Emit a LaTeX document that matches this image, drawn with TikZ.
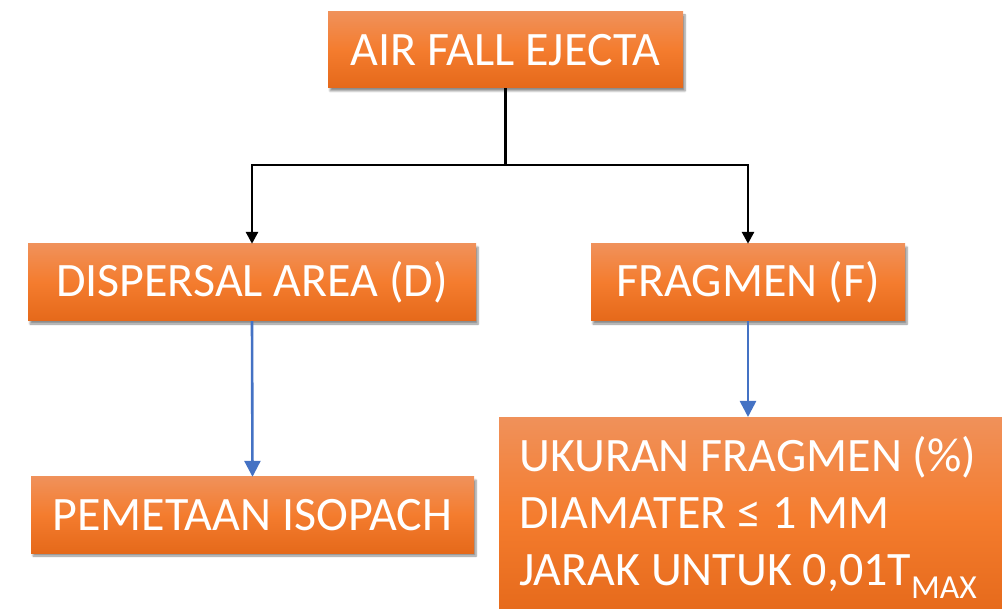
\documentclass[tikz,border=0pt]{standalone}
\usepackage{fontspec}
\setmainfont{Carlito}
\usetikzlibrary{arrows.meta,shadows.blur}
\definecolor{boxtop}{HTML}{F0915A}
\definecolor{boxmid}{HTML}{F47C2E}
\definecolor{boxbot}{HTML}{E5691A}
\definecolor{linkblue}{HTML}{4472C4}
\tikzset{
  block/.style={rectangle, top color=boxtop, bottom color=boxbot, middle color=boxmid,
    text=white, inner sep=0pt, font=\fontsize{48}{57}\selectfont,
    blur shadow={shadow xshift=2pt, shadow yshift=-3pt, shadow blur steps=6, shadow opacity=45}},
  tree/.style={line width=2.8pt, -{Triangle[length=12pt,width=12pt]}},
  link/.style={line width=2.6pt, draw=linkblue, -{Triangle[length=16pt,width=16pt]}}
}

\begin{document}
\begin{tikzpicture}[x=1pt,y=-1pt]
    \useasboundingbox (0,0) rectangle (1002,609);
    \node[block, minimum width=355pt, minimum height=76pt] (ejecta) at (505.5,50) {AIR FALL EJECTA};
    \node[block, minimum width=448pt, minimum height=77pt] (dispersal) at (252,282.5) {DISPERSAL AREA (D)};
    \node[block, minimum width=314pt, minimum height=77pt] (fragmen) at (748,282.5) {FRAGMEN (F)};
    \node[block, minimum width=443pt, minimum height=76pt] (isopach) at (252.5,515) {PEMETAAN ISOPACH};
    \node[block, anchor=north west, align=left, text width=475pt, inner xsep=20pt,
          minimum height=200pt] (ukuran) at (499,417)
        {\spaceskip=0pt\xspaceskip=0pt UKURAN FRAGMEN (\%)\\DIAMATER ≤ 1 MM\\JARAK UNTUK 0,01T\textsubscript{MAX}};
    \coordinate (split) at (505.5,165);
    \draw[tree] (ejecta.south) -- (split) -| (dispersal.north);
    \draw[tree] (split) -| (fragmen.north);
    \draw[link] (dispersal.south) -- (isopach.north);
    \draw[link] (fragmen.south) -- (fragmen.south |- ukuran.north);
\end{tikzpicture}
\end{document}
